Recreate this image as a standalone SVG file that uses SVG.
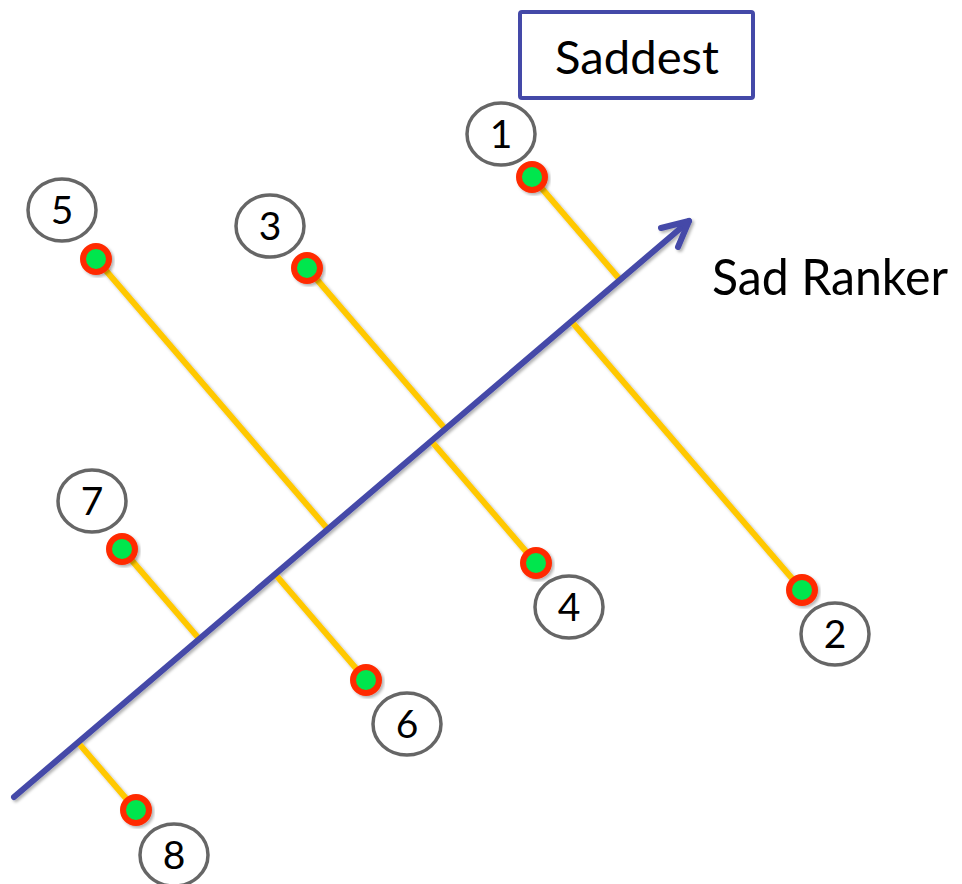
<svg xmlns="http://www.w3.org/2000/svg" width="962" height="884" viewBox="0 0 962 884">
<style>
.lbl{fill:#fff;stroke:#666;stroke-width:3.5}
.num{font-family:Lato,"Open Sans","Liberation Sans",sans-serif;font-size:39px;fill:#000;text-anchor:middle}
.dot{fill:#00E64D;stroke:#FF2A00;stroke-width:6}
.yl{stroke:#FFC800;stroke-width:6;fill:none}
.ax{stroke:#4449A8;stroke-width:6;fill:none;stroke-linecap:round;stroke-linejoin:round}
.big{font-family:Lato,"Open Sans","Liberation Sans",sans-serif;fill:#000}
</style>
<defs>
<filter id="sh" x="-20%" y="-20%" width="140%" height="140%">
<feDropShadow dx="2" dy="2" stdDeviation="1.5" flood-color="#000" flood-opacity="0.3"/>
</filter>
</defs>
<rect width="962" height="884" fill="#fff"/>
<g id="connectors" filter="url(#sh)">
<line class="yl" x1="532" y1="177" x2="620.1" y2="279.7"/>
<line class="yl" x1="802" y1="590" x2="571.3" y2="321.3"/>
<line class="yl" x1="307" y1="268" x2="445.2" y2="428.9"/>
<line class="yl" x1="536" y1="563" x2="431.2" y2="440.9"/>
<line class="yl" x1="96" y1="259" x2="327.8" y2="529.1"/>
<line class="yl" x1="366" y1="680" x2="275.1" y2="574.1"/>
<line class="yl" x1="122" y1="549" x2="199.2" y2="638.9"/>
<line class="yl" x1="136" y1="810" x2="77.9" y2="742.4"/>
<g id="axis">
<line class="ax" x1="14" y1="797" x2="689" y2="221"/>
<polyline class="ax" points="661,228 689,221 678,247"/>
</g>
</g>
<g id="saddest">
<rect x="520" y="12" width="233" height="86" fill="#fff" stroke="#4449A8" stroke-width="4" rx="2"/>
<text class="big" x="637" y="74" font-size="47" text-anchor="middle" textLength="164" lengthAdjust="spacingAndGlyphs">Saddest</text>
</g>
<g id="sad-ranker">
<text class="big" x="712" y="295" font-size="50" textLength="236" lengthAdjust="spacingAndGlyphs">Sad Ranker</text>
</g>
<g id="node1"><ellipse class="lbl" cx="501" cy="134" rx="34" ry="31"/><text class="num" x="501" y="148">1</text><circle class="dot" cx="532" cy="177" r="13" filter="url(#sh)"/></g>
<g id="node2"><ellipse class="lbl" cx="835" cy="634" rx="34" ry="31"/><text class="num" x="835" y="648">2</text><circle class="dot" cx="802" cy="590" r="13" filter="url(#sh)"/></g>
<g id="node3"><ellipse class="lbl" cx="270" cy="226" rx="34" ry="31"/><text class="num" x="270" y="240">3</text><circle class="dot" cx="307" cy="268" r="13" filter="url(#sh)"/></g>
<g id="node4"><ellipse class="lbl" cx="569" cy="607" rx="34" ry="31"/><text class="num" x="569" y="621">4</text><circle class="dot" cx="536" cy="563" r="13" filter="url(#sh)"/></g>
<g id="node5"><ellipse class="lbl" cx="62" cy="210" rx="34" ry="31"/><text class="num" x="62" y="224">5</text><circle class="dot" cx="96" cy="259" r="13" filter="url(#sh)"/></g>
<g id="node6"><ellipse class="lbl" cx="407" cy="724" rx="34" ry="31"/><text class="num" x="407" y="738">6</text><circle class="dot" cx="366" cy="680" r="13" filter="url(#sh)"/></g>
<g id="node7"><ellipse class="lbl" cx="92" cy="501" rx="34" ry="31"/><text class="num" x="92" y="515">7</text><circle class="dot" cx="122" cy="549" r="13" filter="url(#sh)"/></g>
<g id="node8"><ellipse class="lbl" cx="174" cy="855" rx="34" ry="31"/><text class="num" x="174" y="869">8</text><circle class="dot" cx="136" cy="810" r="13" filter="url(#sh)"/></g>
</svg>
